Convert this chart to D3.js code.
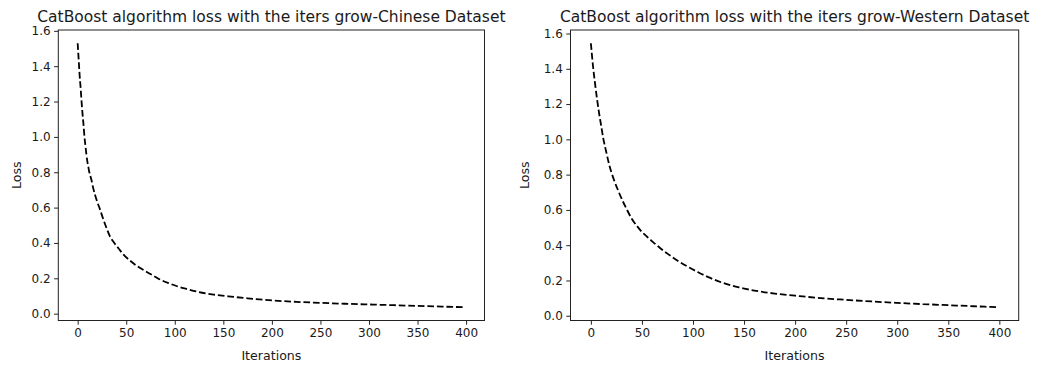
<!DOCTYPE html>
<html>
<head>
<meta charset="utf-8">
<script src="https://cdn.jsdelivr.net/npm/d3@7"></script>
<style>
  body { margin: 0; background: #fff; }
  svg { display: block; }
  text { font-family: "DejaVu Sans", sans-serif; fill: #1a1a1a; }
</style>
</head>
<body>
<svg id="chart" width="1042" height="368"></svg>
<script>
// Training loss per iteration, Chinese dataset
const chineseIters = [0, 1, 2, 3, 4, 5, 6, 7, 8, 9, 10, 11, 12, 13, 14, 16, 18, 20, 23, 26, 30, 33, 37, 42, 47, 54, 61, 70, 78, 86, 95, 104, 112, 125, 140, 155, 175, 200, 225, 250, 275, 300, 325, 350, 375, 399];
const chineseLoss  = [1.53, 1.44, 1.35, 1.28, 1.20, 1.13, 1.07, 1.00, 0.95, 0.90, 0.86, 0.83, 0.80, 0.78, 0.76, 0.71, 0.67, 0.635, 0.59, 0.54, 0.48, 0.44, 0.405, 0.37, 0.335, 0.30, 0.27, 0.24, 0.215, 0.19, 0.17, 0.152, 0.14, 0.122, 0.108, 0.098, 0.087, 0.075, 0.067, 0.061, 0.056, 0.052, 0.048, 0.044, 0.040, 0.036];

// Training loss per iteration, Western dataset
const westernIters = [0, 2, 4, 6, 8, 10, 12, 15, 18, 22, 26, 30, 35, 40, 45, 50, 55, 60, 68, 76, 85, 95, 105, 115, 130, 145, 160, 180, 200, 225, 250, 275, 300, 325, 350, 375, 399];
const westernLoss  = [1.545, 1.42, 1.32, 1.23, 1.15, 1.08, 1.01, 0.93, 0.855, 0.78, 0.72, 0.665, 0.605, 0.55, 0.51, 0.475, 0.448, 0.422, 0.383, 0.348, 0.312, 0.278, 0.247, 0.219, 0.185, 0.161, 0.143, 0.126, 0.114, 0.100, 0.090, 0.081, 0.073, 0.066, 0.060, 0.054, 0.048];

const xTicks = [0, 50, 100, 150, 200, 250, 300, 350, 400];
const yTicks = [0.0, 0.2, 0.4, 0.6, 0.8, 1.0, 1.2, 1.4, 1.6];
const titles = [
  "CatBoost algorithm loss with the iters grow-Chinese Dataset",
  "CatBoost algorithm loss with the iters grow-Western Dataset"
];
const xLabel = "Iterations";
const yLabel = "Loss";

const svg = d3.select("#chart");
svg.append("rect").attr("width", 1042).attr("height", 368).attr("fill", "#fff");

const panels = [
  { left: 58.3, right: 484.5, iters: chineseIters, loss: chineseLoss, title: titles[0], ylabX: 17 },
  { left: 570.5, right: 1018.7, iters: westernIters, loss: westernLoss, title: titles[1], ylabX: 525 }
];
const plotTop = 30, plotBottom = 320.5;

// pad a [min, max] extent by 5% on each side, like matplotlib's autoscale
function padded(ext) {
  const m = (ext[1] - ext[0]) * 0.05;
  return [ext[0] - m, ext[1] + m];
}

panels.forEach(p => {
  const x = d3.scaleLinear().domain(padded([0, 399])).range([p.left, p.right]);
  const y = d3.scaleLinear().domain(padded(d3.extent(p.loss))).range([plotBottom, plotTop]);
  const g = svg.append("g");

  // x axis
  const xa = g.append("g").attr("transform", `translate(0,${plotBottom})`)
    .call(d3.axisBottom(x).tickValues(xTicks).tickFormat(d3.format("d")).tickSize(4.2).tickPadding(3.5));
  // y axis
  const ya = g.append("g").attr("transform", `translate(${p.left},0)`)
    .call(d3.axisLeft(y).tickValues(yTicks).tickFormat(d3.format(".1f")).tickSize(4.2).tickPadding(3.5));
  [xa, ya].forEach(a => {
    a.select(".domain").remove();
    a.selectAll(".tick line").attr("stroke", "#222").attr("stroke-width", 1);
    a.selectAll(".tick text").attr("font-size", 12).attr("fill", "#1a1a1a")
      .style("font-family", '"DejaVu Sans", sans-serif');
  });

  // loss curve
  const line = d3.line()
    .x((d, i) => x(p.iters[i]))
    .y(d => y(d))
    .curve(d3.curveMonotoneX);
  g.append("path")
    .datum(p.loss)
    .attr("d", line)
    .attr("fill", "none")
    .attr("stroke", "#000")
    .attr("stroke-width", 1.8)
    .attr("stroke-dasharray", "6.66,2.88");

  // axes frame
  g.append("rect")
    .attr("x", p.left).attr("y", plotTop)
    .attr("width", p.right - p.left).attr("height", plotBottom - plotTop)
    .attr("fill", "none").attr("stroke", "#222").attr("stroke-width", 1);

  // title and axis labels
  g.append("text")
    .attr("x", (p.left + p.right) / 2).attr("y", 21.5)
    .attr("text-anchor", "middle").attr("font-size", 15.5)
    .text(p.title);
  g.append("text")
    .attr("x", (p.left + p.right) / 2).attr("y", 360)
    .attr("text-anchor", "middle").attr("font-size", 12.6)
    .text(xLabel);
  g.append("text")
    .attr("transform", `translate(${p.ylabX + 4},${(plotTop + plotBottom) / 2}) rotate(-90)`)
    .attr("text-anchor", "middle").attr("font-size", 12.6)
    .text(yLabel);
});
</script>
</body>
</html>
